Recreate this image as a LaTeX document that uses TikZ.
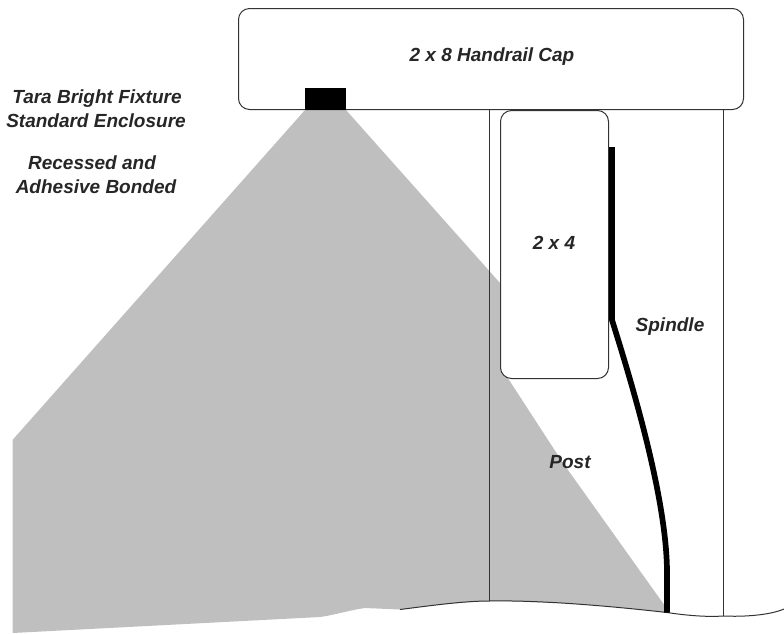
\documentclass[tikz,border=0pt]{standalone}
\usepackage{fontspec}
\setmainfont{Liberation Sans}
\tikzset{
 lbl/.style={font=\fontsize{19}{22}\selectfont\bfseries\itshape,text=black!85,inner sep=0pt,align=center},
 edgeline/.style={draw=black!80,line width=1pt},
 roundbox/.style={draw=black!80,line width=1pt,fill=white,rounded corners=11pt},
}
\definecolor{beam}{HTML}{BFBFBF}
\begin{document}
\begin{tikzpicture}[x=1pt,y=-1pt]
\useasboundingbox (0,0) rectangle (784,633);
% light
\fill[beam] (305,110) -- (346,110) -- (500,283) -- (500,366) -- (563,463) -- (665,606) -- (667,612.5) .. controls (640,609) and (600,605) .. (560,603) -- (500,601)
 .. controls (470,601) and (435,605) .. (400,609.5) -- (365,608) .. controls (350,610) and (335,615) .. (320,617) -- (12.5,633) -- (12.5,440) -- cycle;
% named points
\coordinate (postLtop) at (489,110);
\coordinate (postLbot) at (489,601);
\coordinate (postRtop) at (723,110);
\coordinate (postRbot) at (723,616);
\coordinate (spTop) at (612,147);
\coordinate (spBend) at (612,320);
\coordinate (spLow) at (667,573);
\coordinate (spBot) at (667,612.5);
\coordinate (gndL) at (400,609.5);
\coordinate (gndR) at (784,609);
% post and ground
\draw[edgeline] (postLtop) -- (postLbot);
\draw[edgeline] (postRtop) -- (postRbot);
\draw[edgeline] (gndL) .. controls (435,605) and (465,601) .. (postLbot)
 .. controls (540,600) and (610,606) .. (spBot)
 .. controls (690,616) and (710,617) .. (postRbot)
 .. controls (745,617) and (770,615) .. (gndR);
% cap and 2x4
\node[roundbox,minimum width=505pt,minimum height=101pt,anchor=north west,inner sep=0pt] (cap) at (238,8) {};
\node[lbl] (capL) at (492,57) {2 x 8 Handrail Cap};
\node[roundbox,minimum width=108pt,minimum height=268pt,anchor=north west,inner sep=0pt] (twofour) at (500,110) {};
\node[lbl] (twofourL) at (554,243) {2 x 4};
\node[fill=black,minimum width=41pt,minimum height=22pt,inner sep=0pt,anchor=north west] (fixture) at (305,88) {};
% spindle
\draw[line width=5.7pt,black,line join=round] (spTop) -- (spBend)
 .. controls (633,387) and (667,500) .. (spLow) -- (spBot);
% labels
\node[lbl] (t1) at (97,99) {Tara Bright Fixture};
\node[lbl] (t2) at (96,121) {Standard Enclosure};
\node[lbl] (t3) at (92,163) {Recessed and};
\node[lbl] (t4) at (96,187) {Adhesive Bonded};
\node[lbl] (t5) at (670,327) {Spindle};
\node[lbl] (t6) at (570,462) {Post};
\end{tikzpicture}
\end{document}
